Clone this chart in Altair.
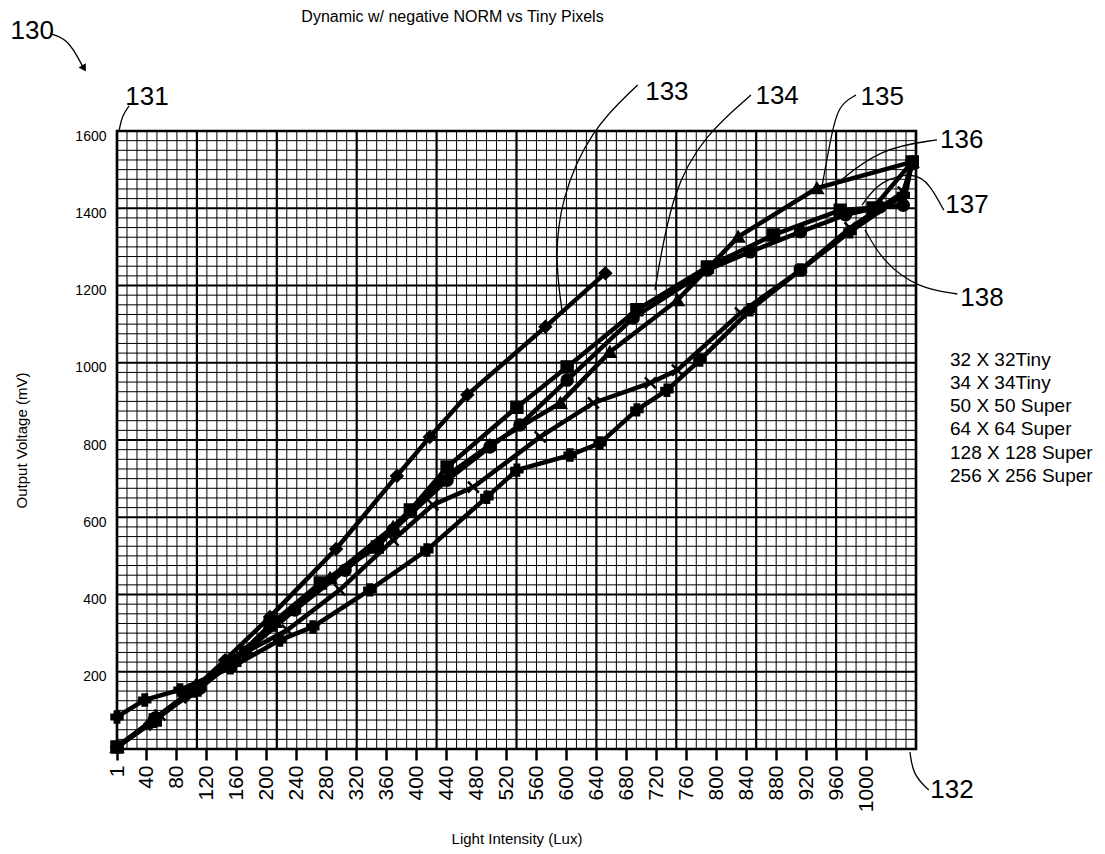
import altair as alt
import pandas as pd
import numpy as np

# ---------------- data ----------------
series_names = ["32 X 32Tiny", "34 X 34Tiny", "50 X 50 Super",
                "64 X 64 Super", "128 X 128 Super", "256 X 256 Super"]

lux_32 = [1, 45, 92, 145, 205, 293, 374, 418, 468, 572, 652]
mv_32 = [5, 65, 135, 230, 342, 518, 707, 808, 917, 1093, 1232]

lux_34 = [1, 52, 105, 158, 205, 272, 348, 392, 441, 534, 601, 694, 788, 876, 965, 1009, 1061]
mv_34 = [5, 75, 153, 230, 321, 430, 523, 619, 730, 885, 989, 1137, 1248, 1331, 1395, 1401, 1520]

lux_50 = [1, 45, 98, 152, 212, 285, 369, 432, 498, 592, 658, 748, 829, 934, 1061]
mv_50 = [5, 70, 148, 225, 329, 443, 575, 696, 787, 896, 1028, 1162, 1326, 1452, 1520]

lux_64 = [1, 58, 112, 165, 228, 298, 369, 422, 476, 565, 636, 712, 748, 832, 912, 978, 1049, 1061]
mv_64 = [5, 88, 166, 243, 308, 412, 541, 632, 678, 808, 896, 948, 981, 1129, 1240, 1349, 1442, 1517]

lux_128 = [1, 38, 85, 152, 218, 262, 338, 414, 494, 534, 605, 645, 694, 734, 778, 845, 912, 978, 1049, 1061]
mv_128 = [83, 127, 153, 210, 282, 316, 412, 515, 652, 722, 761, 792, 878, 929, 1007, 1137, 1240, 1339, 1434, 1517]

lux_256 = [1, 52, 112, 172, 238, 305, 369, 441, 498, 538, 601, 689, 788, 845, 912, 972, 1018, 1049, 1061]
mv_256 = [5, 80, 158, 251, 360, 463, 567, 696, 782, 839, 955, 1116, 1240, 1287, 1339, 1383, 1403, 1408, 1520]

x_tick_values = [1] + list(range(40, 1001, 40))
y_tick_values = list(range(200, 1601, 200))

# patent reference numerals
ref_labels = ["130", "131", "133", "134", "135", "136", "137", "138", "132"]
ref_x = [-141, 12, 705, 852, 992, 1098, 1105, 1125, 1085]
ref_y = [1860, 1688, 1702, 1690, 1688, 1577, 1408, 1168, -106]

# leader curves for the numerals
lead_id = ["130"] * 3 + ["131"] * 3 + ["133"] * 5 + ["134"] * 4 + ["135"] * 4 + \
          ["136"] * 3 + ["137"] * 5 + ["138"] * 4 + ["132"] * 3
lead_x = [-88, -64, -45,
          17, 8, 4,
          695, 632, 592, 585, 594,
          846, 785, 741, 718,
          986, 962, 952, 941,
          1094, 1018, 958,
          1103, 1085, 1065, 1018, 994,
          1121, 1068, 1022, 998,
          1083, 1062, 1058]
lead_y = [1852, 1838, 1768,
          1665, 1640, 1603,
          1719, 1603, 1421, 1266, 1137,
          1693, 1590, 1447, 1188,
          1693, 1667, 1577, 1460,
          1577, 1556, 1460,
          1395, 1460, 1494, 1473, 1408,
          1178, 1194, 1261, 1344,
          -106, -67, -8]

# arrow head of numeral 130
arrow_x = [-43]
arrow_y = [1762]

# ---------------- tables ----------------
all_lux = [lux_32, lux_34, lux_50, lux_64, lux_128, lux_256]
all_mv = [mv_32, mv_34, mv_50, mv_64, mv_128, mv_256]
rows = []
for name, xs_, ys_ in zip(series_names, all_lux, all_mv):
    for a, b in zip(xs_, ys_):
        rows.append({"series": name, "lux": a, "mv": b})
df = pd.DataFrame(rows)

ref_df = pd.DataFrame({"label": ref_labels, "ax": ref_x, "ay": ref_y})
lead_df = pd.DataFrame({"id": lead_id, "ax": lead_x, "ay": lead_y})
lead_df["k"] = lead_df.groupby("id").cumcount()
arrow_df = pd.DataFrame({"ax": arrow_x, "ay": arrow_y})

X_MIN, X_MAX = 1, 1066
Y_MIN, Y_MAX = 0, 1600
xsc = alt.Scale(domain=[X_MIN, X_MAX], nice=False, zero=False)
ysc = alt.Scale(domain=[Y_MIN, Y_MAX], nice=False, zero=False)

# graph-paper grid (10 coarse cells x 8 fine across, 25 mV fine lines)
gx = np.linspace(X_MIN, X_MAX, 81)
gx_df = pd.DataFrame({"gx": gx, "major": [k % 8 == 0 for k in range(81)]})
gy = np.arange(0, 1601, 25)
gy_df = pd.DataFrame({"gy": gy, "major": (gy % 200 == 0)})

FONT = "Liberation Sans"

x_axis = alt.Axis(values=x_tick_values, format="d", title="Light Intensity (Lux)",
                  grid=False, domain=False, labelAngle=270,
                  labelFontSize=21, labelFont=FONT, labelPadding=5,
                  tickSize=11, tickWidth=2.5, tickColor="black",
                  titleFontSize=15, titleFont=FONT, titleFontWeight="normal",
                  titlePadding=20, labelFlush=False, labelOverlap=False)
y_axis = alt.Axis(values=y_tick_values, format="d", title="Output Voltage (mV)",
                  grid=False, domain=False, ticks=False,
                  labelFontSize=14, labelFont=FONT, labelPadding=11, labelOffset=5,
                  titleFontSize=15, titleFont=FONT, titleFontWeight="normal",
                  titleX=-88, titleY=309, labelFlush=False)


def X(field):
    return alt.X(field, scale=xsc, axis=x_axis)


def Y(field):
    return alt.Y(field, scale=ysc, axis=y_axis)


grid_x_minor = alt.Chart(gx_df).transform_filter("!datum.major").mark_rule(
    color="black", strokeWidth=1).encode(x=X("gx:Q"))
grid_x_major = alt.Chart(gx_df).transform_filter("datum.major").mark_rule(
    color="black", strokeWidth=2.2).encode(x=X("gx:Q"))
grid_y_minor = alt.Chart(gy_df).transform_filter("!datum.major").mark_rule(
    color="black", strokeWidth=1).encode(y=Y("gy:Q"))
grid_y_major = alt.Chart(gy_df).transform_filter("datum.major").mark_rule(
    color="black", strokeWidth=2.2).encode(y=Y("gy:Q"))

lines = alt.Chart(df).mark_line(color="black", strokeWidth=4.5).encode(
    x=X("lux:Q"), y=Y("mv:Q"), detail="series:N")

shape_range = ["diamond", "square", "triangle-up",
               "M-1,-1L1,1M-1,1L1,-1", "cross", "circle"]
points = alt.Chart(df).mark_point(filled=True, color="black", stroke="black",
                                  strokeWidth=2.5, size=120, opacity=1).encode(
    x=X("lux:Q"),
    y=Y("mv:Q"),
    shape=alt.Shape("series:N", scale=alt.Scale(domain=series_names, range=shape_range),
                    legend=alt.Legend(title=None, orient="none", legendX=814, legendY=219,
                                      symbolOpacity=0, symbolSize=1, labelOffset=0,
                                      labelFontSize=19, labelFont=FONT, rowPadding=3.3,
                                      labelColor="black")))

ref_text = alt.Chart(ref_df).mark_text(fontSize=26, font=FONT, align="left",
                                       baseline="middle", color="black").encode(
    x=X("ax:Q"), y=Y("ay:Q"), text="label:N")

leaders = alt.Chart(lead_df).mark_line(color="black", strokeWidth=1.3,
                                       interpolate="basis").encode(
    x=X("ax:Q"), y=Y("ay:Q"), detail="id:N", order="k:Q")

arrow = alt.Chart(arrow_df).mark_point(shape="triangle-down", filled=True, color="black",
                                       size=70, angle=330, opacity=1).encode(
    x=X("ax:Q"), y=Y("ay:Q"))

chart = alt.layer(
    grid_x_minor, grid_y_minor, grid_x_major, grid_y_major,
    lines, points, leaders, arrow, ref_text
).properties(
    width=799, height=618,
    autosize=alt.AutoSizeParams(type="none"),
    padding={"left": 109, "top": 123, "right": 180, "bottom": 100},
    title=alt.Title("Dynamic w/ negative NORM vs Tiny Pixels", fontSize=16, font=FONT,
                    fontWeight="normal", anchor="middle", dx=-64, offset=-23,
                    baseline="bottom", color="black"),
    background="white",
).configure_view(stroke="black", strokeWidth=2.5).configure_axis(
    labelColor="black", titleColor="black")

chart.save("out.html", embed_options={"renderer": "svg", "actions": False})
